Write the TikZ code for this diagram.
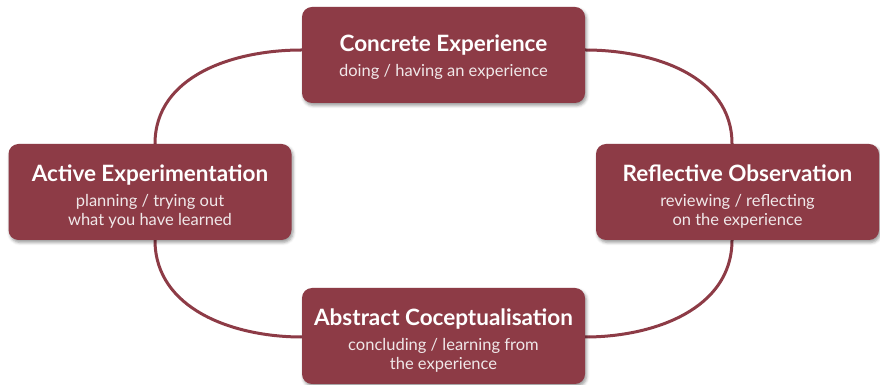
\documentclass[tikz,border=0pt]{standalone}
\usepackage{fontspec}
\setmainfont{Lato}
\usetikzlibrary{shadows.blur,backgrounds,calc}
\definecolor{wine}{RGB}{141,59,70}
\definecolor{subtext}{RGB}{240,232,233}
\tikzset{
  stagebox/.style={rectangle, rounded corners=10pt, fill=wine,
    minimum width=283pt, minimum height=96pt, inner sep=0pt,
    blur shadow={shadow xshift=1.5pt, shadow yshift=-2.5pt,
      shadow blur radius=3pt, shadow opacity=40}},
  stagetext/.style={text=white, align=center, inner sep=0pt,
    font=\fontsize{16.5}{19.5}\selectfont},
  cycleline/.style={draw=wine, line width=3pt}
}
\newcommand{\stagetitle}[1]{{\fontsize{22.5}{22.5}\selectfont\bfseries #1}}
\newcommand{\stagesub}[1]{{\color{subtext}#1}}
\begin{document}
\begin{tikzpicture}[x=1pt,y=1pt]
  \useasboundingbox (0,0) rectangle (880,385);
  % the four stages of the cycle
  \node[stagebox] (top) at (443.5,330) {};
  \node[stagebox] (left) at (150,193) {};
  \node[stagebox] (right) at (737.5,193) {};
  \node[stagebox] (bottom) at (443.5,49) {};
  % their titles and descriptions
  \node[stagetext] (toptext) at ($(top.center)+(0,-2)$)
    {\stagetitle{Concrete Experience}\\[5pt]\stagesub{doing / having an experience}};
  \node[stagetext] (lefttext) at ($(left.center)+(0,-5)$)
    {\stagetitle{Active Experimentation}\\[5pt]\stagesub{planning / trying out}\\\stagesub{what you have learned}};
  \node[stagetext] (righttext) at ($(right.center)+(0,-5)$)
    {\stagetitle{Reflective Observation}\\[5pt]\stagesub{reviewing / reflecting}\\\stagesub{on the experience}};
  \node[stagetext] (bottomtext) at ($(bottom.center)+(0,-5)$)
    {\stagetitle{Abstract Coceptualisation}\\[5pt]\stagesub{concluding / learning from}\\\stagesub{the experience}};
  % connecting arcs behind the boxes
  \begin{scope}[on background layer]
    \draw[cycleline] ($(left.north)+(5,0)$) to[out=90,in=180] ($(top.west)+(0,5)$);
    \draw[cycleline] ($(top.east)+(0,5)$) to[out=0,in=90] ($(right.north)+(-5.5,0)$);
    \draw[cycleline] ($(right.south)+(-5.5,0)$) to[out=-90,in=0] ($(bottom.east)+(0,-1)$);
    \draw[cycleline] ($(bottom.west)+(0,-1)$) to[out=180,in=-90] ($(left.south)+(5,0)$);
  \end{scope}
\end{tikzpicture}
\end{document}
